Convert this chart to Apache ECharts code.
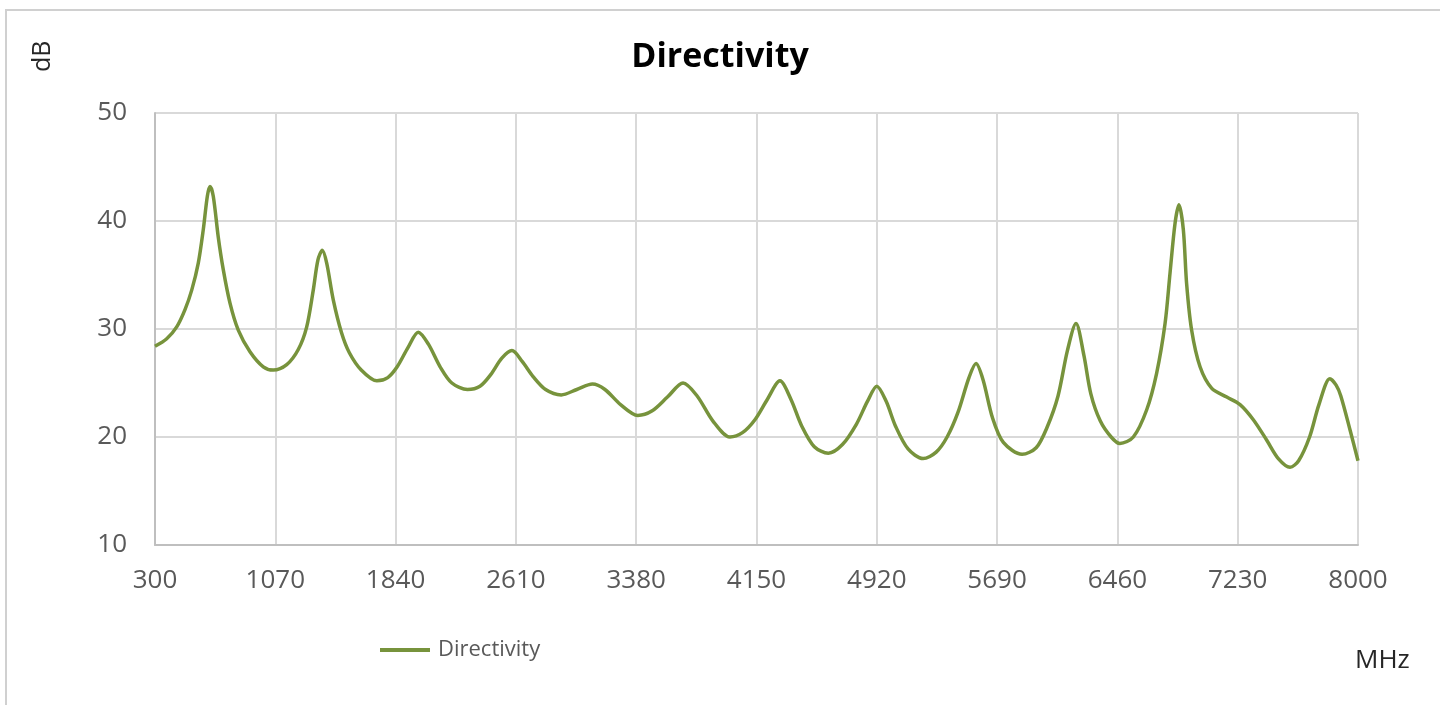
<!DOCTYPE html>
<html>
<head>
<meta charset="utf-8">
<script src="https://cdn.jsdelivr.net/npm/echarts@6/dist/echarts.min.js"></script>
<style>
  html, body { margin: 0; padding: 0; background: #fff; }
  #chart { width: 1440px; height: 705px; }
</style>
</head>
<body>
<div id="chart"></div>
<script>
// frequency (MHz) and directivity (dB)
const freq = [300, 375, 439, 492, 535, 577, 609, 635, 652, 673, 705, 737, 780, 833, 908, 993, 1057, 1143, 1217, 1271,
  1313, 1343, 1371, 1399, 1441, 1495, 1544, 1620, 1720, 1790, 1850, 1920, 1985, 2050, 2125, 2200, 2300, 2380, 2450, 2520,
  2585, 2650, 2720, 2800, 2900, 3000, 3100, 3180, 3280, 3390, 3480, 3580, 3680, 3770, 3870, 3980, 4060, 4140, 4220, 4300,
  4370, 4440, 4520, 4610, 4700, 4790, 4860, 4920, 4980, 5040, 5120, 5216, 5300, 5370, 5440, 5510, 5555, 5600, 5660, 5730,
  5850, 5940, 6010, 6080, 6140, 6195, 6245, 6290, 6350, 6420, 6476, 6562, 6647, 6711, 6765, 6797, 6829, 6854, 6882, 6903,
  6935, 6989, 7064, 7160, 7245, 7330, 7416, 7490, 7565, 7620, 7690, 7750, 7820, 7860, 7890, 7950, 8000]
const directivity = [28.4, 29.1, 30.2, 31.8, 33.6, 36.1, 39.2, 42.3, 43.2, 42.3, 38.5, 35.5, 32.4, 29.9, 27.9, 26.5, 26.2, 26.7, 28.1, 30.2,
  33.6, 36.4, 37.3, 36.1, 32.7, 29.6, 27.8, 26.2, 25.2, 25.5, 26.5, 28.3, 29.7, 28.6, 26.5, 25.0, 24.4, 24.7, 25.8, 27.3,
  28.0, 27.0, 25.6, 24.4, 23.9, 24.4, 24.9, 24.4, 23.0, 22.0, 22.4, 23.7, 25.0, 23.8, 21.5, 20.0, 20.4, 21.6, 23.5, 25.2,
  23.5, 21.0, 19.1, 18.5, 19.3, 21.2, 23.3, 24.7, 23.3, 21.0, 18.9, 18.0, 18.6, 20.0, 22.3, 25.5, 26.8, 25.3, 21.8, 19.5,
  18.4, 19.0, 20.9, 23.8, 28.0, 30.5, 27.6, 24.0, 21.5, 20.0, 19.4, 20.0, 22.5, 25.9, 30.5, 35.2, 39.8, 41.5, 39.2, 34.2,
  29.9, 26.5, 24.5, 23.7, 23.0, 21.6, 19.7, 18.0, 17.2, 17.8, 20.0, 23.0, 25.4, 24.8, 23.8, 20.6, 17.8]

const xTicks = [300, 1070, 1840, 2610, 3380, 4150, 4920, 5690, 6460, 7230, 8000]
const yTicks = [10, 20, 30, 40, 50]

let myChart = echarts.init(document.getElementById('chart'))
const lineColor = '#77933c'
const labelColor = '#595959'
const fontName = '"Open Sans", sans-serif'

let option = {
  animation: false,
  title: {
    text: 'Directivity',
    left: 'center',
    top: 35,
    textStyle: {
      fontFamily: fontName,
      fontWeight: 'bold',
      fontSize: 34,
      color: '#000'
    }
  },
  grid: {
    left: 155,
    top: 113,
    width: 1203,
    height: 432
  },
  legend: {
    left: 375,
    top: 634,
    icon: 'rect',
    itemWidth: 50,
    itemHeight: 4,
    textStyle: {
      fontFamily: fontName,
      fontSize: 22,
      color: labelColor,
      padding: [0, 0, 0, 3]
    },
    data: ['Directivity']
  },
  xAxis: {
    type: 'value',
    min: xTicks[0],
    max: xTicks[xTicks.length - 1],
    interval: xTicks[1] - xTicks[0],
    axisTick: { show: false },
    axisLine: { lineStyle: { color: '#bfbfbf', width: 2 } },
    splitLine: { show: true, lineStyle: { color: '#d9d9d9', width: 2 } },
    axisLabel: {
      margin: 23,
      fontFamily: fontName,
      fontSize: 26,
      color: labelColor,
      formatter: value => String(value)
    }
  },
  yAxis: {
    type: 'value',
    min: yTicks[0],
    max: yTicks[yTicks.length - 1],
    interval: 10,
    axisTick: { show: false },
    axisLine: { show: true, lineStyle: { color: '#bfbfbf', width: 2 } },
    splitLine: { show: true, lineStyle: { color: '#d9d9d9', width: 2 } },
    axisLabel: {
      margin: 28,
      fontFamily: fontName,
      fontSize: 26,
      color: labelColor
    }
  },
  graphic: [
    {
      type: 'rect',
      shape: { x: 6, y: 10, width: 1500, height: 800 },
      style: { fill: 'none', stroke: '#d0d0d0', lineWidth: 2 },
      silent: true
    },
    {
      type: 'text',
      x: 30,
      y: 72,
      rotation: Math.PI / 2,
      style: { text: 'dB', fontFamily: fontName, fontSize: 25, fill: '#262626' }
    },
    {
      type: 'text',
      x: 1355,
      y: 648,
      style: { text: 'MHz', fontFamily: fontName, fontSize: 26, fill: '#262626' }
    }
  ],
  series: [
    {
      name: 'Directivity',
      type: 'line',
      smooth: 0.3,
      showSymbol: false,
      lineStyle: { color: lineColor, width: 3.5 },
      itemStyle: { color: lineColor },
      data: freq.map((f, i) => [f, directivity[i]])
    }
  ]
}

myChart.setOption(option)
</script>
</body>
</html>
